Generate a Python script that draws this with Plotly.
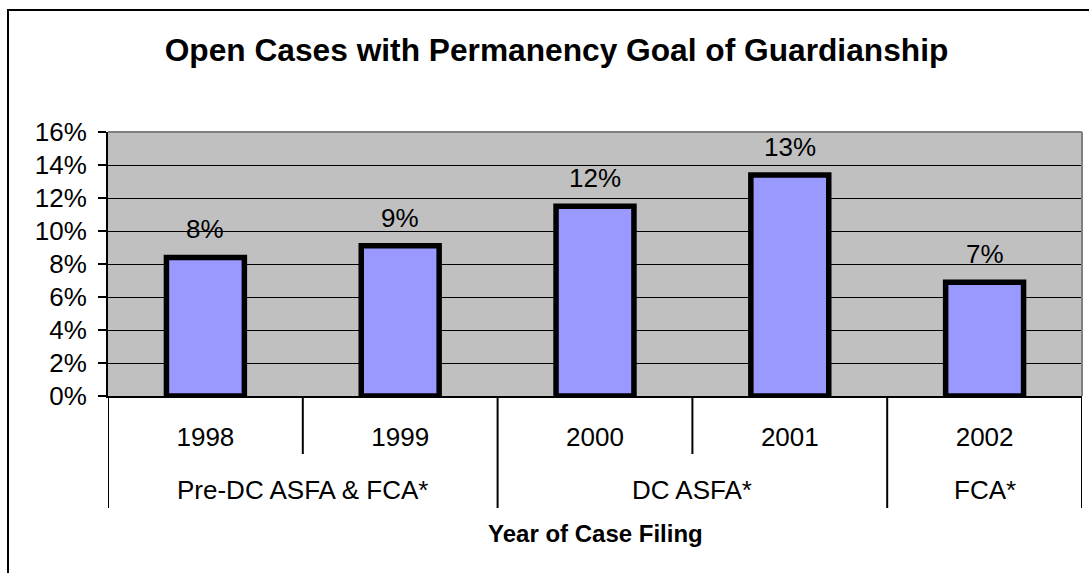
import plotly.graph_objects as go

years = ["1998", "1999", "2000", "2001", "2002"]
values = [8.4, 9.1, 11.5, 13.4, 6.9]
group_of_year = ["Pre-DC ASFA & FCA*", "Pre-DC ASFA & FCA*", "DC ASFA*", "DC ASFA*", "FCA*"]
y_ticks = [0, 2, 4, 6, 8, 10, 12, 14, 16]
title_text = "Open Cases with Permanency Goal of Guardianship"
x_title = "Year of Case Filing"

FONT = "Liberation Sans, Arial, Helvetica, sans-serif"
W, H = 1089, 573
L, R, T, B = 108, 7, 132, 177
PW, PH = W - L - R, H - T - B


def py(px):
    return (H - B - px) / PH


def pxx(px):
    return (px - L) / PW


fig = go.Figure()
fig.add_trace(go.Bar(
    x=years, y=values, width=0.4,
    marker=dict(color="#9999FF", line=dict(color="black", width=5.5)),
    hoverinfo="skip",
))

annotations = []
for i, v in enumerate(values):
    annotations.append(dict(x=i, y=v, xref="x", yref="y", text=f"{v:.0f}%",
                            showarrow=False, yanchor="middle", yshift=28,
                            font=dict(family=FONT, size=26, color="black")))

# group labels and dividers
groups = []
for i, g in enumerate(group_of_year):
    if groups and groups[-1][0] == g:
        groups[-1][2] = i
    else:
        groups.append([g, i, i])

shapes = []
for g, a, b in groups:
    annotations.append(dict(x=(a + b) / 2, y=py(490), xref="x", yref="paper", text=g,
                            showarrow=False, yanchor="middle", xanchor="center",
                            font=dict(family=FONT, size=26, color="black")))
    for i in range(a, b):
        shapes.append(dict(type="line", xref="x", yref="paper", x0=i + 0.5, x1=i + 0.5,
                           y0=0, y1=py(454), line=dict(color="black", width=2)))
bounds = [groups[0][1] - 0.5] + [b + 0.5 for _, _, b in groups]
for xb in bounds:
    shapes.append(dict(type="line", xref="x", yref="paper", x0=xb, x1=xb,
                       y0=0, y1=py(508), line=dict(color="black", width=2)))

# axis title
annotations.append(dict(x=0.5, y=py(533), xref="paper", yref="paper", text=f"<b>{x_title}</b>",
                        showarrow=False, yanchor="middle", xanchor="center",
                        font=dict(family=FONT, size=24, color="black")))

# plot area top/right border (gray)
shapes.append(dict(type="line", xref="paper", yref="paper", x0=0, x1=1, y0=1, y1=1,
                   line=dict(color="#808080", width=2), layer="above"))
shapes.append(dict(type="line", xref="paper", yref="paper", x0=1, x1=1, y0=0, y1=1,
                   line=dict(color="#808080", width=2), layer="above"))
# outer chart frame
shapes.append(dict(type="rect", xref="paper", yref="paper", x0=pxx(8), x1=pxx(1200),
                   y0=py(700), y1=py(10), line=dict(color="black", width=2),
                   fillcolor="rgba(0,0,0,0)", layer="above"))

fig.update_layout(
    width=W, height=H,
    margin=dict(l=L, r=R, t=T, b=B),
    paper_bgcolor="white",
    plot_bgcolor="#C0C0C0",
    showlegend=False,
    title=dict(text=f"<b>{title_text}</b>", x=556.5 / W, y=1 - 50 / H,
               xanchor="center", yanchor="middle",
               font=dict(family=FONT, size=31.7, color="black")),
    xaxis=dict(type="category", range=[-0.5, 4.5], showgrid=False, ticks="",
               showline=True, linecolor="black", linewidth=2,
               tickfont=dict(family=FONT, size=26, color="black"),
               ticklabelstandoff=17),
    yaxis=dict(range=[0, 16], tickvals=y_ticks, ticktext=[f"{t}%" for t in y_ticks],
               showgrid=True, gridcolor="black", gridwidth=1,
               zeroline=False, showline=True, linecolor="black", linewidth=2,
               ticks="outside", ticklen=8, tickcolor="black", tickwidth=1.5,
               tickfont=dict(family=FONT, size=26, color="black"),
               ticklabelstandoff=6),
    annotations=annotations,
    shapes=shapes,
    bargap=0.6,
)

fig.write_html("out.html", config={"displayModeBar": False},
               post_script="document.body.style.margin='0px';")
